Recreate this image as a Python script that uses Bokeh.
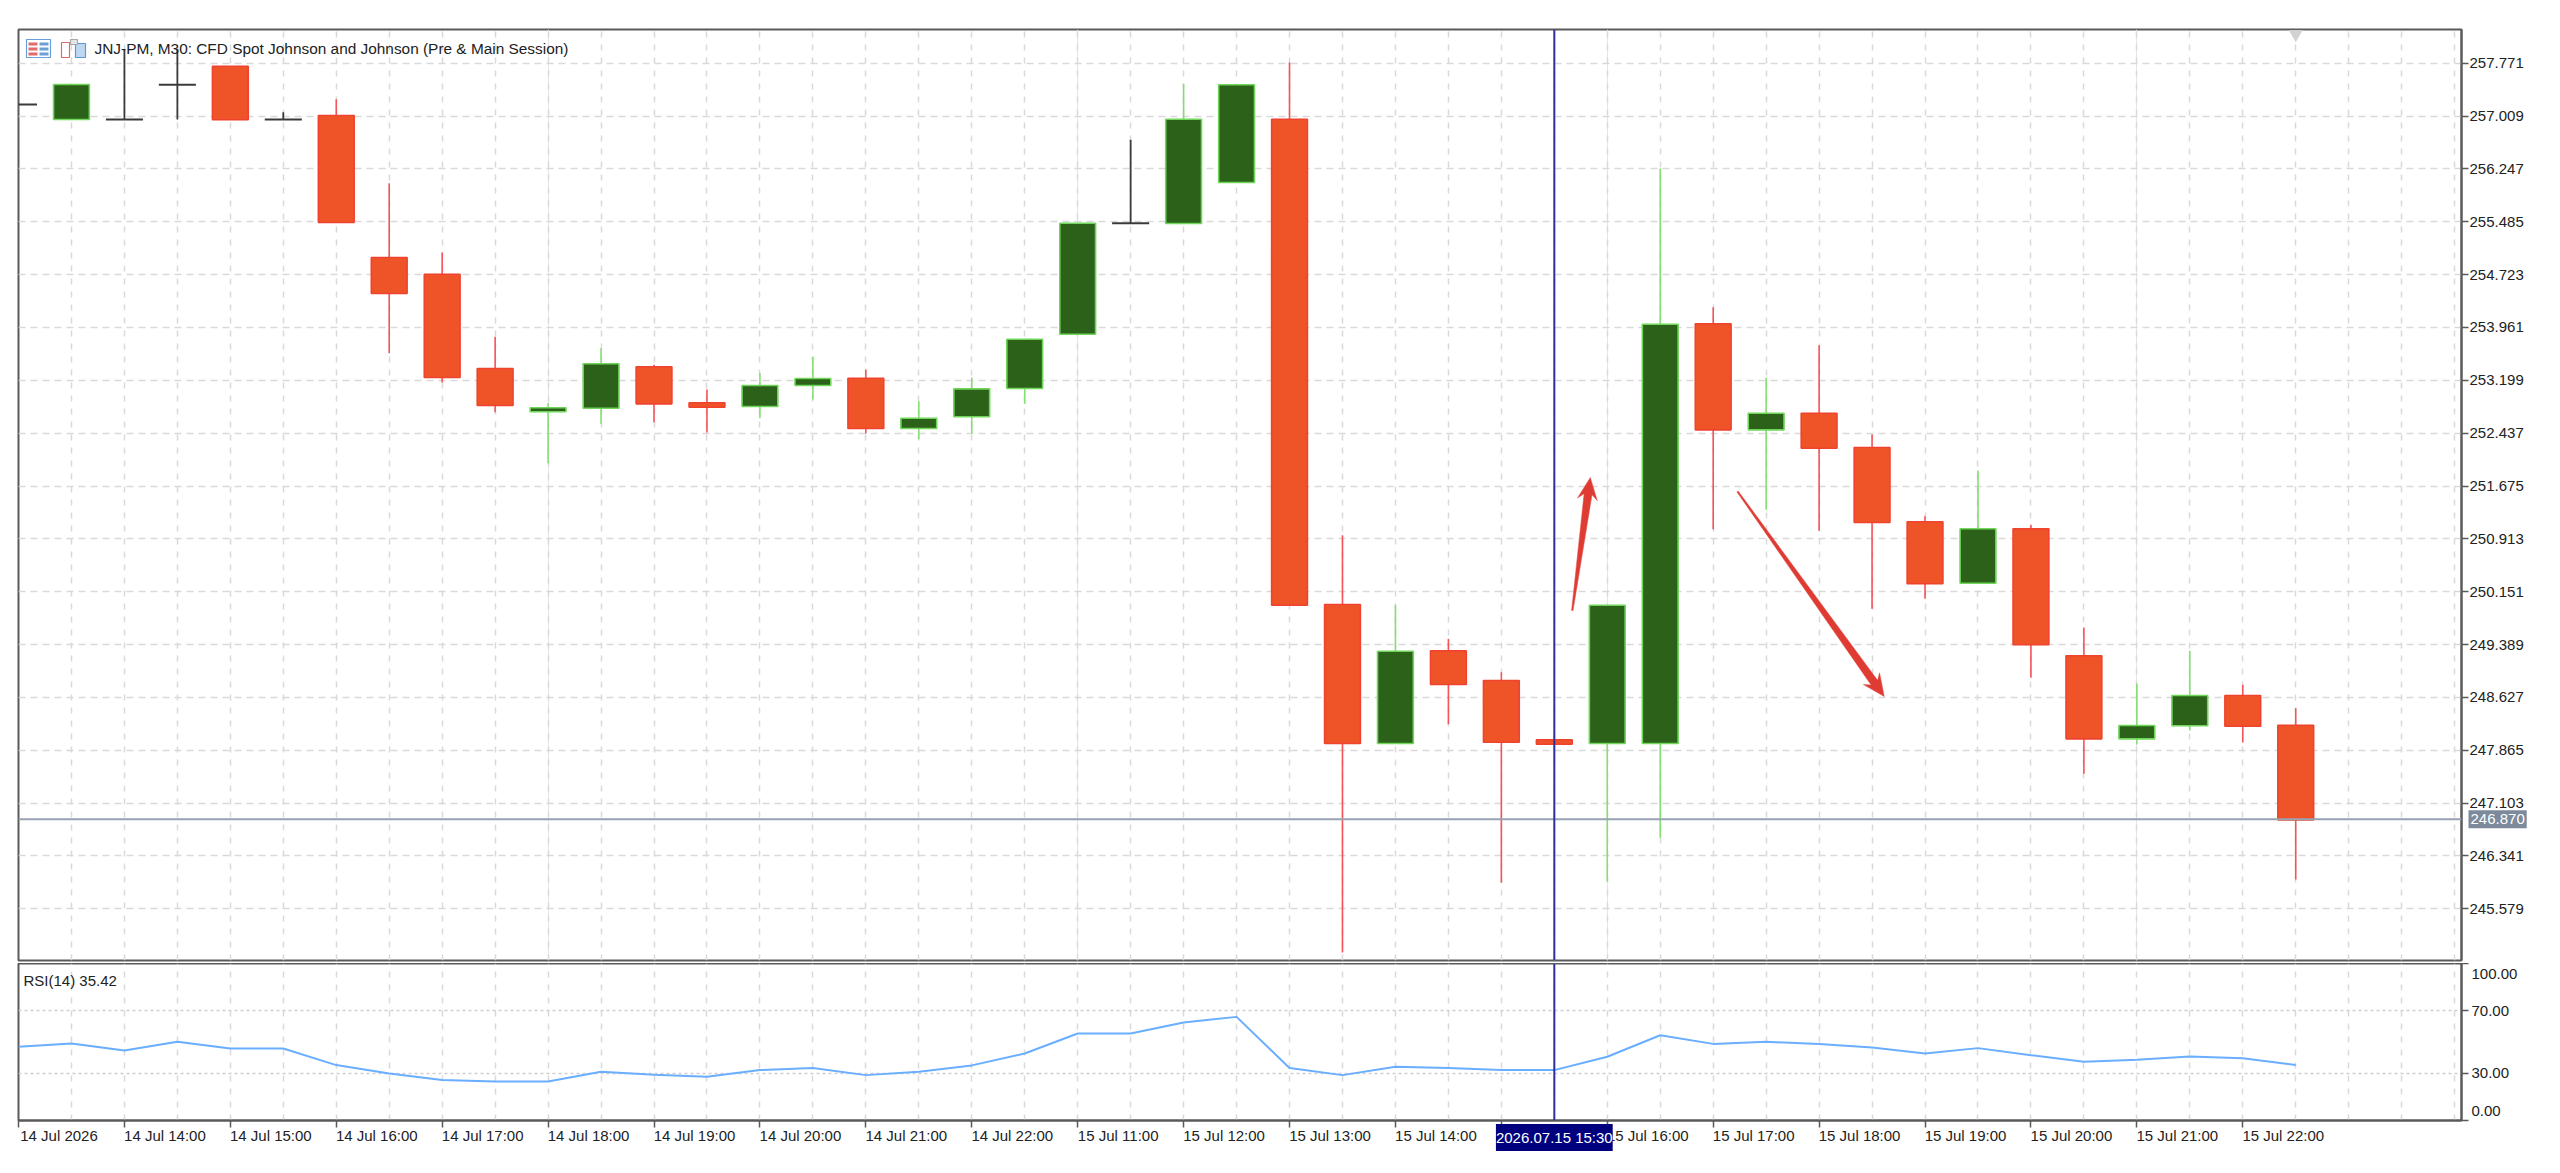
from bokeh.plotting import figure
from bokeh.layouts import column
from bokeh.models import (ColumnDataSource, FixedTicker, Range1d, Span, Label, Grid, LinearAxis,
                          NumeralTickFormatter)
from bokeh.embed import file_html
from bokeh.resources import INLINE
import math

# ---------- data ----------
opens = [257.175, 256.959, 256.959, 257.460, 257.728, 256.959, 257.017, 254.970, 254.729, 253.369,
         252.745, 252.797, 253.394, 252.875, 252.821, 253.124, 253.229, 252.504, 252.673, 253.081,
         253.864, 255.464, 255.460, 256.051, 256.964, 249.967, 247.962, 249.299, 248.871, 248.016,
         247.962, 247.962, 254.014, 252.485, 252.725, 252.230, 251.159, 250.274, 251.058, 249.227,
         248.030, 248.218, 248.655, 248.226]
closes = [257.175, 257.464, 256.959, 257.460, 256.955, 256.959, 255.474, 254.451, 253.239, 252.836,
          252.803, 253.437, 252.860, 252.811, 253.124, 253.225, 252.504, 252.653, 253.076, 253.792,
          255.464, 255.464, 256.964, 257.460, 249.956, 247.962, 249.293, 248.813, 247.981, 247.952,
          249.956, 254.008, 252.485, 252.725, 252.220, 251.149, 250.265, 251.058, 249.386, 248.030,
          248.222, 248.655, 248.212, 246.862]
highs = [257.175, 257.464, 257.969, 257.969, 257.728, 257.065, 257.252, 256.041, 255.042, 253.826,
         252.869, 253.662, 253.423, 253.066, 253.301, 253.538, 253.355, 252.898, 253.239, 253.792,
         255.464, 256.667, 257.474, 257.460, 257.781, 250.966, 249.956, 249.472, 248.990, 248.016,
         249.956, 256.253, 254.253, 253.235, 253.705, 252.418, 251.240, 251.899, 251.116, 249.635,
         248.827, 249.299, 248.809, 248.471]
lows = [257.175, 256.959, 256.959, 256.959, 256.955, 256.959, 255.474, 253.590, 253.167, 252.739,
        252.004, 252.572, 252.595, 252.446, 252.653, 252.922, 252.432, 252.350, 252.432, 252.860,
        253.864, 255.464, 255.460, 256.051, 249.956, 244.949, 247.962, 248.241, 245.954, 247.952,
        245.973, 246.603, 251.052, 251.332, 251.029, 249.905, 250.049, 250.274, 248.910, 247.526,
        247.948, 248.150, 247.977, 246.002]
rsi = [46.9, 49.0, 44.6, 50.1, 45.9, 45.9, 35.3, 30.0, 25.8, 24.9, 24.9, 31.1, 29.2, 27.9, 32.1,
       33.4, 28.9, 31.1, 35.1, 42.7, 55.4, 55.4, 62.4, 66.0, 33.4, 28.9, 34.2, 33.4, 32.1, 32.1,
       40.6, 54.3, 48.8, 50.1, 48.8, 46.5, 42.7, 46.1, 41.6, 37.4, 38.7, 40.8, 39.7, 35.4]

price_ticks = [257.771, 257.009, 256.247, 255.485, 254.723, 253.961, 253.199, 252.437, 251.675,
               250.913, 250.151, 249.389, 248.627, 247.865, 247.103, 246.341, 245.579]
rsi_ticks = [100, 70, 30, 0]
time_labels = ["14 Jul 2026", "14 Jul 14:00", "14 Jul 15:00", "14 Jul 16:00", "14 Jul 17:00",
               "14 Jul 18:00", "14 Jul 19:00", "14 Jul 20:00", "14 Jul 21:00", "14 Jul 22:00",
               "15 Jul 11:00", "15 Jul 12:00", "15 Jul 13:00", "15 Jul 14:00", "",
               "15 Jul 16:00", "15 Jul 17:00", "15 Jul 18:00", "15 Jul 19:00", "15 Jul 20:00",
               "15 Jul 21:00", "15 Jul 22:00"]
last_price = 246.870
cross_bar = 29
title = "JNJ-PM, M30:  CFD Spot Johnson and Johnson (Pre & Main Session)"
rsi_title = "RSI(14) 35.42"
cross_label = "2026.07.15 15:30"
# arrows: (bar, price) tail -> tip
arrow_up = ((29.34, 249.880), (29.68, 251.798))
arrow_down = ((32.46, 251.596), (35.23, 248.640))

# ---------- frame geometry ----------
BAR_PX = 52.96
PRICE_PX = 69.36
X_MAX = 46.13
Y_TOP, Y_BOT = 258.257, 244.834
F_LEFT = 18
FRAME_W = 2443
FONT = "Liberation Sans"
FS = "15px"

C_UP, C_UP_LINE, C_UP_WICK = "#2C611A", "#6FD65A", "#84DE72"
C_DN, C_DN_LINE, C_DN_WICK = "#EE5427", "#F0432F", "#F4535A"
C_DOJI = "#3A3A3A"
C_GRID = "#D9D9D9"
C_FRAME = "#5A5A5A"
C_TEXT = "#222222"


def style_common(p):
    p.outline_line_color = C_FRAME
    p.outline_line_width = 2
    p.background_fill_color = "white"
    p.border_fill_color = "white"


bars = list(range(len(opens)))
up = [i for i in bars if closes[i] > opens[i]]
dn = [i for i in bars if closes[i] < opens[i]]
dj = [i for i in bars if closes[i] == opens[i]]


def subset(idx):
    return ColumnDataSource(dict(
        x=idx,
        top=[max(opens[i], closes[i]) for i in idx],
        bottom=[min(opens[i], closes[i]) for i in idx],
        high=[highs[i] for i in idx],
        low=[lows[i] for i in idx],
        x0=[i - 0.35 for i in idx],
        x1=[i + 0.35 for i in idx],
        mid=[opens[i] for i in idx],
    ))


# ---------- price pane ----------
p1 = figure(frame_width=FRAME_W, frame_height=931, min_border_left=F_LEFT, min_border_right=91,
            min_border_top=29, min_border_bottom=3, x_range=Range1d(0, X_MAX),
            y_range=Range1d(Y_BOT, Y_TOP), x_axis_location=None, y_axis_location="right",
            toolbar_location=None, output_backend="svg")
style_common(p1)
ax = p1.yaxis[0]
ax.ticker = FixedTicker(ticks=price_ticks)
ax.formatter = NumeralTickFormatter(format="0.000")
p1.ygrid.ticker = FixedTicker(ticks=price_ticks)
p1.ygrid.grid_line_color = C_GRID
p1.ygrid.grid_line_dash = "7 5"
p1.ygrid.grid_line_width = 1.5
p1.add_layout(Grid(dimension=0, ticker=FixedTicker(ticks=list(range(47))), grid_line_color=C_GRID,
                   grid_line_dash="6 7", grid_line_width=1.5))


def style_y(ax):
    ax.axis_line_color = C_FRAME
    ax.axis_line_width = 2
    ax.major_tick_line_color = C_FRAME
    ax.major_tick_line_width = 1.5
    ax.major_tick_out = 7
    ax.major_tick_in = 0
    ax.minor_tick_out = 0
    ax.minor_tick_in = 0
    ax.major_label_standoff = 1
    ax.major_label_text_font = FONT
    ax.major_label_text_font_size = FS
    ax.major_label_text_color = C_TEXT


style_y(ax)

for idx, wick, fill, line in ((up, C_UP_WICK, C_UP, C_UP_LINE), (dn, C_DN_WICK, C_DN, C_DN_LINE)):
    s = subset(idx)
    p1.segment("x", "high", "x", "low", source=s, line_color=wick, line_width=1.6)
    p1.vbar("x", 0.676, "top", "bottom", source=s, fill_color=fill, line_color=line, line_width=1.6)
s = subset(dj)
p1.segment("x", "high", "x", "low", source=s, line_color=C_DOJI, line_width=1.8)
p1.segment("x0", "mid", "x1", "mid", source=s, line_color=C_DOJI, line_width=2)


def arrow_poly(tail, tip, w0, w1, neck, barb, hw):
    """Tapered arrow outline in data coordinates, shaped in screen pixels."""
    dx = (tip[0] - tail[0]) * BAR_PX
    dy = (tip[1] - tail[1]) * PRICE_PX
    L = math.hypot(dx, dy)
    ux, uy = dx / L, dy / L
    nx, ny = -uy, ux
    pts = [(0, w0 / 2), (L - neck, w1 / 2), (L - barb, hw / 2), (L, 0),
           (L - barb, -hw / 2), (L - neck, -w1 / 2), (0, -w0 / 2)]
    xs = [tail[0] + (a * ux + b * nx) / BAR_PX for a, b in pts]
    ys = [tail[1] + (a * uy + b * ny) / PRICE_PX for a, b in pts]
    return xs, ys


for tail, tip in (arrow_up, arrow_down):
    xs, ys = arrow_poly(tail, tip, 1.5, 8, 17, 22, 20)
    p1.patch(xs, ys, fill_color="#DF3B33", line_color="#E2504A", line_width=0.5)

p1.scatter(x=[43], y=[258.19], marker="inverted_triangle", size=14, color="#D2D2D2", line_color=None)


# small toolbar icons in the pane's corner, laid out relative to the title
def px_x(v):
    return (v - 18) / BAR_PX


def px_y(v):
    return Y_TOP - (v - 29) / PRICE_PX


icon_rects = [(26, 39, 50, 57, "white", "#6C9FD6")]
for k in range(3):
    icon_rects.append((28, 42 + k * 5, 37, 45 + k * 5, "#E46A6A", None))
    icon_rects.append((39, 42 + k * 5, 48, 45 + k * 5, "#6C9FD6", None))
icon_rects += [(61, 42, 69, 57, "white", "#E06A6A"), (75, 43, 85, 57, "#BFD8F2", "#5E97D2"),
               (70, 39, 77, 44, "#E6E6E6", "#AAAAAA")]
for x0, y0, x1, y1, fc, lc in icon_rects:
    p1.quad(left=[px_x(x0)], right=[px_x(x1)], top=[px_y(y0)], bottom=[px_y(y1)],
            fill_color=fc, line_color=lc, line_width=1.2)

p1.add_layout(Label(x=px_x(94), y=px_y(48), text=title, text_font=FONT, text_font_size="15.4px",
                    text_color=C_TEXT, text_baseline="middle", text_align="left"))
p1.add_layout(Span(location=last_price, dimension="width", line_color="#98A2B3", line_width=2))
p1.add_layout(Span(location=cross_bar, dimension="height", line_color="#2F2F9E", line_width=2))
# side-panel labels are not clipped to the frame
p1.add_layout(Label(x=-58, y=last_price, x_units="screen", y_units="data",
                    text=f"{last_price:.3f}", text_font=FONT, padding=(2, 4),
                    text_font_size=FS, text_color="white", text_baseline="middle",
                    text_align="left", background_fill_color="#7C8A9C", level="overlay"), "right")

# ---------- RSI pane ----------
p2 = figure(frame_width=FRAME_W, frame_height=157, min_border_left=F_LEFT, min_border_right=91,
            min_border_top=0, min_border_bottom=42, x_range=p1.x_range, y_range=Range1d(0, 100),
            y_axis_location="right", toolbar_location=None, output_backend="svg")
style_common(p2)
RSI_PX = 1.57
ay = p2.yaxis[0]
ay.ticker = FixedTicker(ticks=rsi_ticks)
ay.major_label_overrides = {t: " " for t in rsi_ticks}
style_y(ay)
ay.major_label_standoff = 0
ay.major_label_text_font_size = "1px"
# label strip of the RSI pane: the end labels sit inward from their ticks
rsi_label_pos = {(1120 - 973) / RSI_PX: "100.00", 70: "70.00", 30: "30.00", (1120 - 1110) / RSI_PX: "0.00"}
ay2 = LinearAxis(ticker=FixedTicker(ticks=list(rsi_label_pos)), major_label_overrides=rsi_label_pos)
style_y(ay2)
ay2.axis_line_color = None
ay2.major_tick_line_color = None
ay2.major_tick_out = 0
ay2.major_label_standoff = 0
p2.add_layout(ay2, "right")

p2.ygrid.ticker = FixedTicker(ticks=[30, 70])
p2.ygrid.grid_line_color = "#CFCFCF"
p2.ygrid.grid_line_dash = "3 3"
p2.ygrid.grid_line_width = 1.5
p2.xgrid.ticker = FixedTicker(ticks=list(range(47)))
p2.xgrid.grid_line_color = C_GRID
p2.xgrid.grid_line_dash = "6 7"
p2.xgrid.grid_line_width = 1.5

ticks_x = list(range(0, 44, 2))
axx = p2.xaxis[0]
axx.ticker = FixedTicker(ticks=ticks_x)
axx.major_label_overrides = {t: " " for t in ticks_x}
axx.major_label_standoff = 0
axx.major_label_text_font_size = "1px"
axx.axis_line_color = C_FRAME
axx.axis_line_width = 2
axx.major_tick_line_color = C_FRAME
axx.major_tick_line_width = 1.5
axx.major_tick_out = 7
axx.major_tick_in = 0
axx.minor_tick_out = 0
axx.minor_tick_in = 0
# labels start at their tick: a second strip centres each label half a label-width to the right
half_label = 40.5 / BAR_PX
label_pos = {t + half_label: lab for t, lab in zip(ticks_x, time_labels) if lab}
axx2 = LinearAxis(ticker=FixedTicker(ticks=list(label_pos)), major_label_overrides=label_pos,
                  major_label_text_font=FONT, major_label_text_font_size=FS,
                  major_label_text_color=C_TEXT, major_label_standoff=-5, axis_line_color=None,
                  major_tick_line_color=None, major_tick_out=0, major_tick_in=0,
                  minor_tick_out=0, minor_tick_in=0)
p2.add_layout(axx2, "below")

p2.line(bars, rsi, line_color="#69AEFF", line_width=2)
p2.add_layout(Span(location=cross_bar, dimension="height", line_color="#2F2F9E", line_width=2))

p2.add_layout(Label(x=(23 - 18) / BAR_PX, y=(1120 - 980) / RSI_PX, text=rsi_title, text_font=FONT,
                    text_font_size=FS, text_color=C_TEXT, text_baseline="middle"))
p2.add_layout(Label(x=cross_bar, y=36, x_units="data", y_units="screen", text=cross_label, text_font=FONT,
                    padding=(0, 5), text_font_size=FS, text_color="white", text_baseline="middle",
                    text_align="center", background_fill_color="#00007F", level="overlay"), "below")

page = column(p1, p2, spacing=0)
open("out.html", "w").write(file_html(page, INLINE))
